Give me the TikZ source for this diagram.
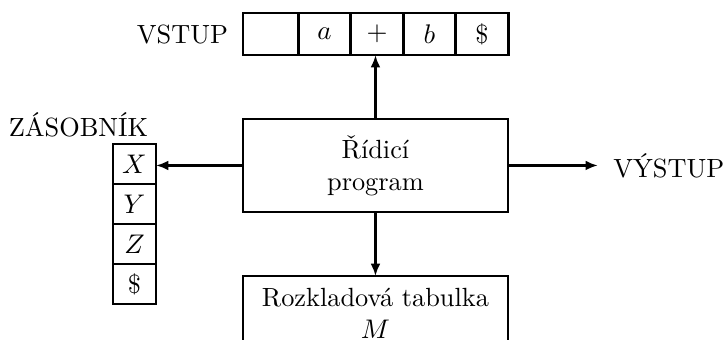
\documentclass[tikz,border=0pt]{standalone}
\usepackage{fontspec}
\usetikzlibrary{positioning,arrows.meta}

\begin{document}
\begin{tikzpicture}[
    font=\fontsize{10.7}{13}\selectfont,
    cell/.style={draw,line width=1.1pt,minimum width=0.75cm,minimum height=0.6cm,inner sep=0pt,outer sep=0pt},
    box/.style={draw,line width=1.1pt,minimum width=3.786cm,align=center,outer sep=0pt},
    arr/.style={-{Latex[length=5pt,width=4pt]},line width=1.1pt}]
    \useasboundingbox (0,0) rectangle (10.329,4.857);
    % Input tape
    \node[cell,minimum width=0.79cm] (in0) at (3.866,4.371) {};
    \node[cell,right=0pt of in0] (in1) {$a$};
    \node[cell,right=0pt of in1] (in2) {$+$};
    \node[cell,right=0pt of in2] (in3) {$b$};
    \node[cell,right=0pt of in3] (in4) {\$};
    \node[left=0.09cm of in0] (vstup) {VSTUP};
    % Boxes
    \node[box,minimum height=1.329cm] (ctrl) at (5.364,2.493) {Řídicí\\program};
    \node[box,minimum height=1.06cm,below=0.915cm of ctrl] (table) {Rozkladová tabulka\\$M$};
    % Stack
    \node[cell,minimum width=0.614cm,minimum height=0.571cm] (s1) at (1.921,2.514) {$X$};
    \node[cell,minimum width=0.614cm,minimum height=0.571cm,below=0pt of s1] (s2) {$Y$};
    \node[cell,minimum width=0.614cm,minimum height=0.571cm,below=0pt of s2] (s3) {$Z$};
    \node[cell,minimum width=0.614cm,minimum height=0.571cm,below=0pt of s3] (s4) {\$};
    \node (zasobnik) at (1.121,3.071) {ZÁSOBNÍK};
    % Output
    \node[anchor=west] (vystup) at (8.64,2.493) {VÝSTUP};
    % Arrows
    \draw[arr] (ctrl.north) -- (ctrl.north |- in2.south);
    \draw[arr] (ctrl.west) -- (ctrl.west -| s1.east);
    \draw[arr] (ctrl.south) -- (table.north);
    \draw[arr,shorten >=2.8pt] (ctrl.east) -- (vystup.west);
\end{tikzpicture}
\end{document}
